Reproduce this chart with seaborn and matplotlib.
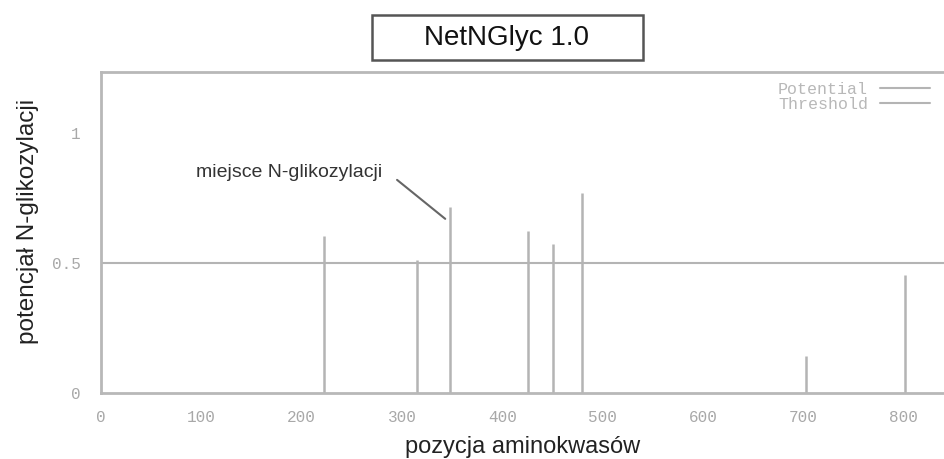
import numpy as np
import pandas as pd
import matplotlib
matplotlib.use('Agg')
import matplotlib.pyplot as plt
import seaborn as sns
from matplotlib.patches import Rectangle
from matplotlib.lines import Line2D

# predicted N-glycosylation sites (position, potential)
positions = [222, 315, 348, 425, 450, 479, 702, 801]
potentials = [0.605, 0.512, 0.715, 0.625, 0.574, 0.77, 0.142, 0.452]
threshold = 0.5
x_ticks = [0, 100, 200, 300, 400, 500, 600, 700, 800]
y_ticks = [0, 0.5, 1]
y_ticks_minor = [0.25, 0.75]

df = pd.DataFrame({'pos': positions, 'pot': potentials})

sns.set_style('white')
plt.rcParams['font.family'] = ['Liberation Sans', 'DejaVu Sans']

fig = plt.figure(figsize=(9.44, 4.59), dpi=100)
ax = fig.add_axes([0.107, 0.144, 0.893, 0.699])

grey = '#b4b4b4'
mono = 'Liberation Mono'
tick_col = '#a8a8a8'

# stems for potential
ax.vlines(df['pos'], 0, df['pot'], color=grey, lw=1.8)
# threshold line
sns.lineplot(x=[0, 840], y=[threshold, threshold], ax=ax, color=grey, lw=1.5)

ax.set_xlim(0, 840)
ax.set_ylim(0, 1.235)
ax.set_xticks(x_ticks)
ax.set_xticklabels([str(t) for t in x_ticks], fontfamily=mono, fontsize=11.5, color=tick_col)
ax.set_yticks(y_ticks)
ax.set_yticklabels(['0', '0.5', '1'], fontfamily=mono, fontsize=11.5, color=tick_col)
ax.set_yticks(y_ticks_minor, minor=True)
ax.tick_params(axis='x', which='both', direction='out', length=6, width=1, color='#999999', pad=6)
ax.tick_params(axis='y', which='both', direction='inout', length=9, width=1, color='#999999', pad=10)

for side in ['left', 'top', 'bottom']:
    ax.spines[side].set_color('#b8b8b8')
    ax.spines[side].set_linewidth(2)
ax.spines['right'].set_visible(False)

ax.set_xlabel('pozycja aminokwasów', fontsize=17, color='#222222')
ax.set_ylabel('potencjał N-glikozylacji', fontsize=17.5, color='#222222')
ax.xaxis.set_label_coords(0.5006, -0.168)
ax.xaxis.label.set_va('center')
ax.yaxis.set_label_coords(-0.087, 0.533)
ax.yaxis.label.set_va('center')

# annotation
ax.text(95, 0.85, 'miejsce N-glikozylacji', fontsize=14, color='#333333', va='center')
ax.plot([295, 343], [0.82, 0.67], color='#666666', lw=1.5)

# legend
handles = [Line2D([0], [0], color=grey, lw=1.5), Line2D([0], [0], color=grey, lw=1.5)]
leg = ax.legend(handles, ['Potential', 'Threshold'], loc='upper right', frameon=False,
                markerfirst=False, handlelength=3.0, handletextpad=0.7,
                labelspacing=0.0, borderaxespad=0.2, bbox_to_anchor=(0.995, 1.0),
                prop={'family': mono, 'size': 12})
for t in leg.get_texts():
    t.set_color('#b8b8b8')

# title box
fig.patches.append(Rectangle((372 / 944, 1 - 60 / 459), 271 / 944, 45 / 459,
                             transform=fig.transFigure, fill=False,
                             edgecolor='#555555', lw=1.8))
fig.text(506 / 944, 1 - 38 / 459, 'NetNGlyc 1.0', ha='center', va='center',
         fontsize=20, color='#111111')

fig.savefig('out.png', dpi=100)
